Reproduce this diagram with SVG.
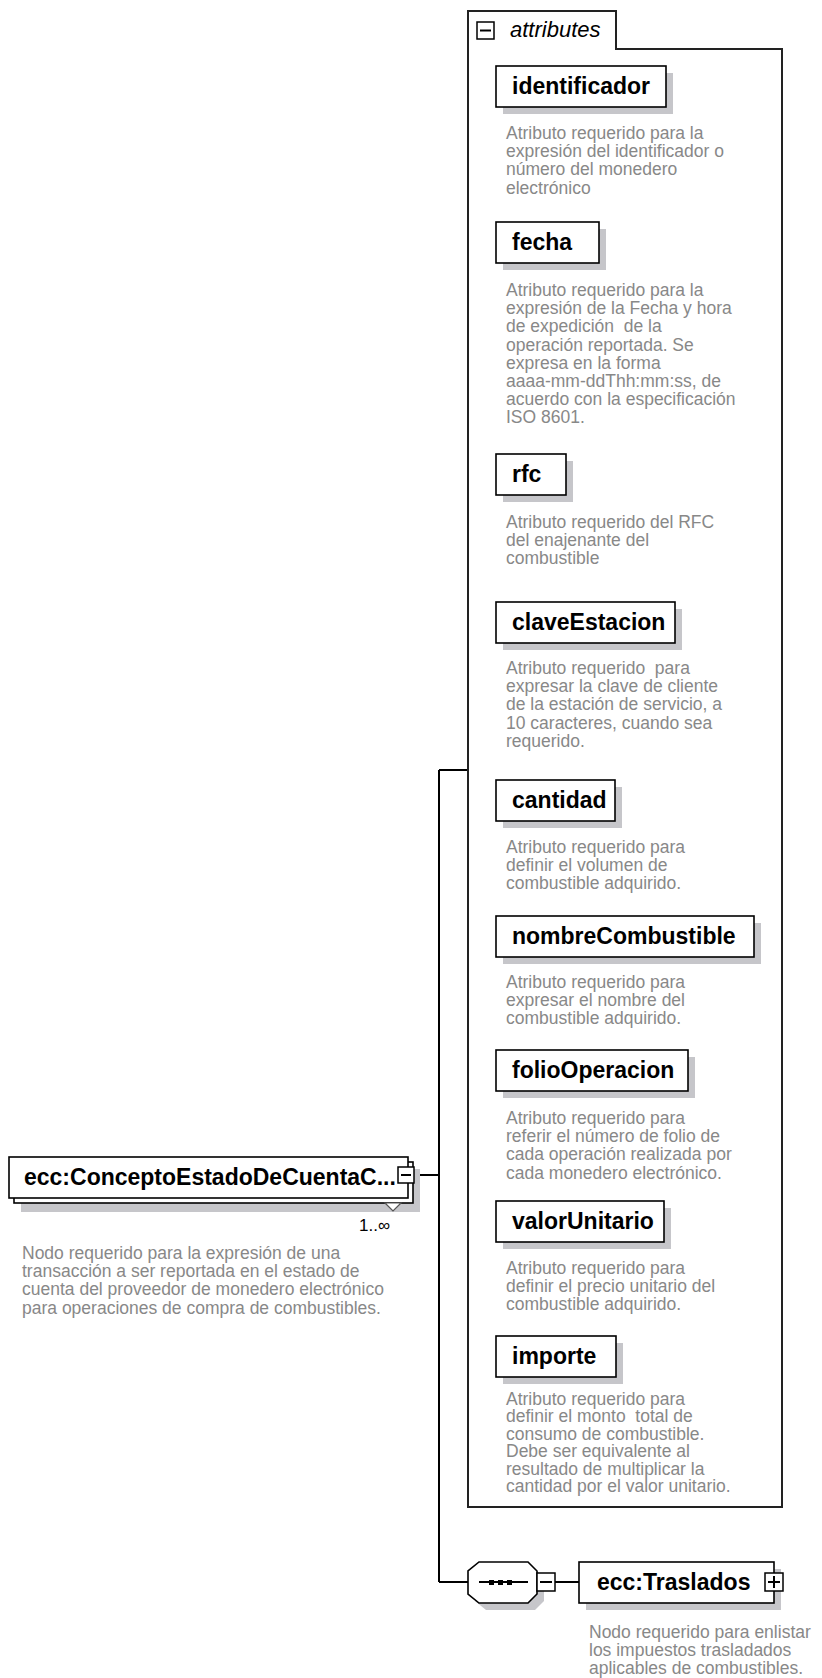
<svg xmlns="http://www.w3.org/2000/svg" width="822" height="1678" viewBox="0 0 822 1678">
<style>
.bg{fill:#fff}
.box{fill:#fff;stroke:#000;stroke-width:1.6}
.shadow{fill:#c6c6ca}
.cont{fill:none;stroke:#222;stroke-width:2}
.lbl{font-family:"Liberation Sans",Arial,sans-serif;font-weight:bold;font-size:23px;fill:#000}
.desc{font-family:"Liberation Sans",Arial,sans-serif;font-size:17.5px;fill:#888;white-space:pre}
.conn{fill:none;stroke:#000;stroke-width:2}
.icon{fill:#fff;stroke:#000;stroke-width:1.5}
.ital{font-family:"Liberation Sans",Arial,sans-serif;font-style:italic;font-size:22px;fill:#000}
</style>
<rect class="bg" x="0" y="0" width="822" height="1678"/>
<g id="connectors">
<path class="conn" d="M414,1175 H439 M439,770 V1582 M439,770 H468 M439,1582 H468 M555,1582 H579"/>
</g>
<g id="attributes">
<path class="cont" d="M468,49 V11 H616 V49 H782 V1507 H468 Z"/>
<rect class="icon" x="477" y="22" width="17" height="17"/>
<path class="conn" d="M480,30.5 H491" stroke-width="1.5"/>
<text class="ital" x="510" y="37">attributes</text>
</g>
<g id="attr-identificador">
<rect class="shadow" x="503" y="73" width="170" height="41"/>
<rect class="box" x="496" y="66" width="170" height="41"/>
<text class="lbl" x="512" y="94">identificador</text>
<text class="desc" x="506" y="139">Atributo requerido para la</text>
<text class="desc" x="506" y="157.2">expresión del identificador o</text>
<text class="desc" x="506" y="175.4">número del monedero</text>
<text class="desc" x="506" y="193.6">electrónico</text>
</g>
<g id="attr-fecha">
<rect class="shadow" x="503" y="229" width="103" height="41"/>
<rect class="box" x="496" y="222" width="103" height="41"/>
<text class="lbl" x="512" y="250">fecha</text>
<text class="desc" x="506" y="296">Atributo requerido para la</text>
<text class="desc" x="506" y="314.2">expresión de la Fecha y hora</text>
<text class="desc" x="506" y="332.4">de expedición  de la</text>
<text class="desc" x="506" y="350.6">operación reportada. Se</text>
<text class="desc" x="506" y="368.8">expresa en la forma</text>
<text class="desc" x="506" y="387">aaaa-mm-ddThh:mm:ss, de</text>
<text class="desc" x="506" y="405.2">acuerdo con la especificación</text>
<text class="desc" x="506" y="423.4">ISO 8601.</text>
</g>
<g id="attr-rfc">
<rect class="shadow" x="503" y="461" width="70" height="41"/>
<rect class="box" x="496" y="454" width="70" height="41"/>
<text class="lbl" x="512" y="482">rfc</text>
<text class="desc" x="506" y="528">Atributo requerido del RFC</text>
<text class="desc" x="506" y="546.2">del enajenante del</text>
<text class="desc" x="506" y="564.4">combustible</text>
</g>
<g id="attr-claveEstacion">
<rect class="shadow" x="503" y="609" width="179" height="41"/>
<rect class="box" x="496" y="602" width="179" height="41"/>
<text class="lbl" x="512" y="630">claveEstacion</text>
<text class="desc" x="506" y="674">Atributo requerido  para</text>
<text class="desc" x="506" y="692.2">expresar la clave de cliente</text>
<text class="desc" x="506" y="710.4">de la estación de servicio, a</text>
<text class="desc" x="506" y="728.6">10 caracteres, cuando sea</text>
<text class="desc" x="506" y="746.8">requerido.</text>
</g>
<g id="attr-cantidad">
<rect class="shadow" x="503" y="787" width="119" height="41"/>
<rect class="box" x="496" y="780" width="119" height="41"/>
<text class="lbl" x="512" y="808">cantidad</text>
<text class="desc" x="506" y="853">Atributo requerido para</text>
<text class="desc" x="506" y="871.2">definir el volumen de</text>
<text class="desc" x="506" y="889.4">combustible adquirido.</text>
</g>
<g id="attr-nombreCombustible">
<rect class="shadow" x="503" y="923" width="258" height="41"/>
<rect class="box" x="496" y="916" width="258" height="41"/>
<text class="lbl" x="512" y="944">nombreCombustible</text>
<text class="desc" x="506" y="988">Atributo requerido para</text>
<text class="desc" x="506" y="1006.2">expresar el nombre del</text>
<text class="desc" x="506" y="1024.4">combustible adquirido.</text>
</g>
<g id="attr-folioOperacion">
<rect class="shadow" x="503" y="1057" width="192" height="41"/>
<rect class="box" x="496" y="1050" width="192" height="41"/>
<text class="lbl" x="512" y="1078">folioOperacion</text>
<text class="desc" x="506" y="1124">Atributo requerido para</text>
<text class="desc" x="506" y="1142.2">referir el número de folio de</text>
<text class="desc" x="506" y="1160.4">cada operación realizada por</text>
<text class="desc" x="506" y="1178.6">cada monedero electrónico.</text>
</g>
<g id="attr-valorUnitario">
<rect class="shadow" x="503" y="1208" width="168" height="41"/>
<rect class="box" x="496" y="1201" width="168" height="41"/>
<text class="lbl" x="512" y="1229">valorUnitario</text>
<text class="desc" x="506" y="1274">Atributo requerido para</text>
<text class="desc" x="506" y="1292.2">definir el precio unitario del</text>
<text class="desc" x="506" y="1310.4">combustible adquirido.</text>
</g>
<g id="attr-importe">
<rect class="shadow" x="503" y="1343" width="120" height="41"/>
<rect class="box" x="496" y="1336" width="120" height="41"/>
<text class="lbl" x="512" y="1364">importe</text>
<text class="desc" x="506" y="1405">Atributo requerido para</text>
<text class="desc" x="506" y="1422.4">definir el monto  total de</text>
<text class="desc" x="506" y="1439.8">consumo de combustible.</text>
<text class="desc" x="506" y="1457.2">Debe ser equivalente al</text>
<text class="desc" x="506" y="1474.6">resultado de multiplicar la</text>
<text class="desc" x="506" y="1492">cantidad por el valor unitario.</text>
</g>
<g id="main-node">
<rect class="shadow" x="21" y="1169" width="399" height="43"/>
<rect class="box" x="14" y="1162" width="399" height="41"/>
<rect class="box" x="9" y="1157" width="399" height="41"/>
<text class="lbl" x="24" y="1185" font-size="21.8">ecc:ConceptoEstadoDeCuentaC...</text>
<rect class="icon" x="398" y="1167" width="16" height="16"/>
<path class="conn" d="M401,1175 H411" stroke-width="1.5"/>
<polygon points="385,1203 401,1203 393,1211" fill="#fff" stroke="#555" stroke-width="1.2"/>
<text x="359" y="1231" font-family="Liberation Sans,Arial,sans-serif" font-size="17" fill="#000">1..∞</text>
<text class="desc" x="22" y="1259">Nodo requerido para la expresión de una</text>
<text class="desc" x="22" y="1277.2">transacción a ser reportada en el estado de</text>
<text class="desc" x="22" y="1295.4">cuenta del proveedor de monedero electrónico</text>
<text class="desc" x="22" y="1313.6">para operaciones de compra de combustibles.</text>
</g>
<g id="sequence">
<polygon class="shadow" points="486,1569 535,1569 544,1578 544,1601 535,1610 486,1610 475,1601 475,1578"/>
<polygon class="box" points="479,1562 528,1562 537,1571 537,1594 528,1603 479,1603 468,1594 468,1571"/>
<path class="conn" d="M479,1582 H528" stroke-width="1.5"/>
<rect x="489" y="1580" width="5" height="5" fill="#000"/>
<rect x="498" y="1580" width="5" height="5" fill="#000"/>
<rect x="507" y="1580" width="5" height="5" fill="#000"/>
<rect class="icon" x="537" y="1573" width="18" height="18"/>
<path class="conn" d="M540,1582 H552" stroke-width="1.5"/>
</g>
<g id="traslados">
<rect class="shadow" x="586" y="1569" width="195" height="41"/>
<rect class="box" x="579" y="1562" width="195" height="41"/>
<text class="lbl" x="597" y="1590">ecc:Traslados</text>
<rect class="icon" x="765" y="1573" width="18" height="18"/>
<path class="conn" d="M768,1582 H780 M774,1576 V1588" stroke-width="1.5"/>
<text class="desc" x="589" y="1638">Nodo requerido para enlistar</text>
<text class="desc" x="589" y="1656.2">los impuestos trasladados</text>
<text class="desc" x="589" y="1674.4">aplicables de combustibles.</text>
</g>
</svg>
